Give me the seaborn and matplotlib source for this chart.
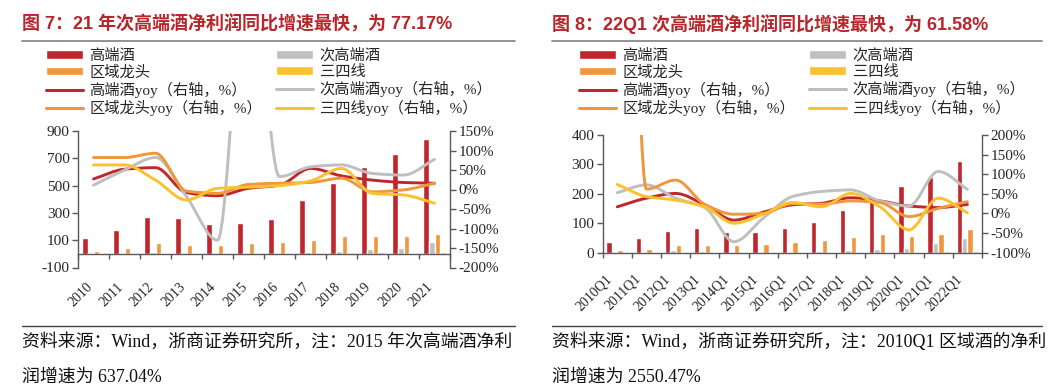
import numpy as np
import pandas as pd
import matplotlib
matplotlib.use("Agg")
import matplotlib.pyplot as plt
import matplotlib.transforms as mtransforms
from matplotlib.path import Path
from matplotlib.patches import PathPatch, Patch
from matplotlib.lines import Line2D
import seaborn as sns

# ---------------- data ----------------
years = ['2010', '2011', '2012', '2013', '2014', '2015', '2016', '2017', '2018', '2019', '2020', '2021']
high_profit = [115, 176, 273, 261, 217, 229, 253, 392, 521, 633, 729, 841]
sub_profit = [4, 5, 14, 8, 1, 5, 6, 12, 21, 33, 46, 85]
reg_profit = [20, 41, 83, 68, 63, 78, 87, 102, 131, 133, 129, 148]
tier_profit = [3, 4, 6, 5, 4, 4, 5, 7, 9, 10, 9, 10]
high_yoy = [27, 52, 56, -8, -16, 3, 11, 54, 35, 24, 18, 16]
sub_yoy = [11, 50, 82, -18, -130, 637.04, 33, 58, 63, 41, 37, 77.17]
reg_yoy = [82, 82, 93, -4, -10, 13, 16, 18, 29, -6, -1, 16]
tier_yoy = [63, 63, 24, -27, 3, 6, 10, 22, 54, -10, -14, -35]

quarters = ['2010Q1', '2011Q1', '2012Q1', '2013Q1', '2014Q1', '2015Q1', '2016Q1',
            '2017Q1', '2018Q1', '2019Q1', '2020Q1', '2021Q1', '2022Q1']
high_q = [35, 49, 74, 84, 69, 71, 84, 105, 145, 193, 227, 258, 312]
sub_q = [2, 3, 8, 7, 3, 3, 4, 5, 9, 12, 15, 32, 51]
reg_q = [8, 14, 26, 27, 26, 29, 36, 42, 53, 63, 57, 63, 80]
tier_q = [1, 1, 2, 2, 2, 2, 2, 3, 3, 4, 4, 5, 6]
high_q_yoy = [17, 39, 51, 22, -17, 3, 22, 26, 40, 32, 19, 15, 23]
sub_q_yoy = [53, 73, 39, 15, -72, -12, 43, 56, 60, 32, 19, 107, 61.58]
reg_q_yoy = [2550.47, 62, 85, 23, -2, 0, 25, 24, 32, 28, -8, 13, 30]
tier_q_yoy = [74, 43, 34, 17, -25, -2, 28, 17, 51, 17, -42, 39, 2]

bar_names = ['高端酒', '次高端酒', '区域龙头', '三四线']
line_names = ['高端酒yoy（右轴，%）', '次高端酒yoy（右轴，%）', '区域龙头yoy（右轴，%）', '三四线yoy（右轴，%）']
titles = ['图 7：21 年次高端酒净利润同比增速最快，为 77.17%',
          '图 8：22Q1 次高端酒净利润同比增速最快，为 61.58%']
notes = [['资料来源：Wind，浙商证券研究所，注：2015 年次高端酒净利', '润增速为 637.04%'],
         ['资料来源：Wind，浙商证券研究所，注：2010Q1 区域酒的净利', '润增速为 2550.47%']]

colors = ['#C0272D', '#BFBFBF', '#F0963C', '#FBC12F']

# ---------------- style ----------------
sns.set_style('ticks')
SERIF = ['Liberation Serif', 'Noto Sans CJK SC']
plt.rcParams['font.family'] = SERIF
plt.rcParams['axes.unicode_minus'] = False

W, H = 1063, 392
fig = plt.figure(figsize=(W / 100, H / 100), dpi=100)


def fx(px):
    return px / W


def fy(py):
    return 1 - py / H


def smooth_path(xs, ys):
    """Smoothed line through the data points (monotone cubic Bezier segments)."""
    x = np.asarray(xs, float)
    y = np.asarray(ys, float)
    n = len(x)
    d = np.diff(y) / np.diff(x)
    m = np.zeros(n)
    m[0], m[-1] = d[0], d[-1]
    for i in range(1, n - 1):
        if d[i - 1] * d[i] > 0:
            m[i] = 2 * d[i - 1] * d[i] / (d[i - 1] + d[i])
    verts = [(x[0], y[0])]
    codes = [Path.MOVETO]
    for i in range(n - 1):
        h = x[i + 1] - x[i]
        verts += [(x[i] + h / 3, y[i] + m[i] * h / 3),
                  (x[i + 1] - h / 3, y[i + 1] - m[i + 1] * h / 3),
                  (x[i + 1], y[i + 1])]
        codes += [Path.CURVE4] * 3
    return Path(verts, codes)


AXC = '#595959'


def panel(rect, cats, bars, lines, ylim, yticks, y2lim, y2ticks, pad_pt, xoff_px):
    ax = fig.add_axes(rect)
    n = len(cats)
    df = pd.DataFrame({
        'cat': np.repeat(cats, 4),
        'series': bar_names * n,
        'value': np.array(bars).T.reshape(-1),
    })
    sns.barplot(data=df, x='cat', y='value', hue='series', hue_order=bar_names,
                palette=colors, width=0.74, gap=0, dodge=True, legend=False,
                saturation=1, ax=ax, order=cats)
    ax.set_xlim(-0.5, n - 0.5)
    ax.set_ylim(*ylim)
    ax.set_yticks(yticks)
    ax.set_yticklabels([str(v) for v in yticks])
    ax.set_xlabel('')
    ax.set_ylabel('')
    ax.spines['top'].set_visible(False)
    ax.spines['right'].set_visible(False)
    ax.spines['bottom'].set_position(('data', 0))
    for s in ['left', 'bottom']:
        ax.spines[s].set_color(AXC)
        ax.spines[s].set_linewidth(1.0)
    ax.set_xticks(range(n))
    ax.set_xticklabels(cats, rotation=45, ha='right', va='top', rotation_mode='anchor')
    ax.set_xticks(np.arange(-0.5, n, 1.0), minor=True)
    ax.tick_params(axis='x', which='major', length=0, pad=pad_pt, labelsize=10)
    ax.tick_params(axis='x', which='minor', length=3.5, width=1.0, color=AXC, direction='out')
    ax.tick_params(axis='y', length=4, width=1.0, color=AXC, labelsize=11, pad=2)
    off = mtransforms.ScaledTranslation(xoff_px / 100, 0, fig.dpi_scale_trans)
    for lab in ax.get_xticklabels():
        lab.set_transform(lab.get_transform() + off)

    ax2 = ax.twinx()
    ax2.set_ylim(*y2lim)
    ax2.set_yticks(y2ticks)
    ax2.set_yticklabels([f'{v}%' for v in y2ticks])
    for s in ['top', 'left', 'bottom']:
        ax2.spines[s].set_visible(False)
    ax2.spines['right'].set_color(AXC)
    ax2.spines['right'].set_linewidth(1.0)
    ax2.tick_params(axis='y', length=4, width=1.0, color=AXC, labelsize=11, pad=2)
    xs = np.arange(n)
    for vals, c in zip(lines, colors):
        p = PathPatch(smooth_path(xs, vals), facecolor='none', edgecolor=c,
                      lw=2.1, capstyle='round', joinstyle='round')
        ax2.add_patch(p)
    ax2.set_xlim(-0.5, n - 0.5)
    ax.grid(False)
    ax2.grid(False)
    return ax, ax2


panel([fx(78), fy(267.5), fx(450) - fx(78), fy(131) - fy(267.5)], years,
      [high_profit, sub_profit, reg_profit, tier_profit],
      [high_yoy, sub_yoy, reg_yoy, tier_yoy],
      (-100, 900), [-100, 100, 300, 500, 700, 900],
      (-200, 150), list(range(-200, 151, 50)), pad_pt=19, xoff_px=-8)

panel([fx(602.7), fy(252.7), fx(982) - fx(602.7), fy(135) - fy(252.7)], quarters,
      [high_q, sub_q, reg_q, tier_q],
      [high_q_yoy, sub_q_yoy, reg_q_yoy, tier_q_yoy],
      (0, 400), [0, 100, 200, 300, 400],
      (-100, 200), list(range(-100, 201, 50)), pad_pt=14, xoff_px=-12)

# ---------------- titles, rules, notes, legends ----------------
TITLE_FONT = ['Liberation Sans', 'Noto Sans CJK SC']
for x0, x1, t, nt in [(22, 515, titles[0], notes[0]), (552, 1042, titles[1], notes[1])]:
    fig.text(fx(x0), fy(24), t, fontsize=13, fontweight='bold', color='#B8262B',
             family=TITLE_FONT, ha='left', va='center')
    fig.add_artist(Line2D([fx(x0), fx(x1)], [fy(41), fy(41)], color='#808080', lw=1.2))
    fig.add_artist(Line2D([fx(x0), fx(x1)], [fy(326), fy(326)], color='#404040', lw=1.0))
    fig.text(fx(x0), fy(342), nt[0], fontsize=12.9, color='#111111', ha='left', va='center')
    fig.text(fx(x0), fy(377), nt[1], fontsize=12.9, color='#111111', ha='left', va='center')

handles = [Patch(facecolor=colors[0]), Patch(facecolor=colors[2]),
           Line2D([0], [0], color=colors[0], lw=2.2), Line2D([0], [0], color=colors[2], lw=2.2),
           Patch(facecolor=colors[1]), Patch(facecolor=colors[3]),
           Line2D([0], [0], color=colors[1], lw=2.2), Line2D([0], [0], color=colors[3], lw=2.2)]
labels = [bar_names[0], bar_names[2], line_names[0], line_names[2],
          bar_names[1], bar_names[3], line_names[1], line_names[3]]
for lx in [46, 579]:
    fig.legend(handles, labels, ncol=2, loc='upper left', bbox_to_anchor=(fx(lx), fy(48.5)),
               frameon=False, fontsize=11, handlelength=2.45, handleheight=0.5,
               handletextpad=0.4, labelspacing=0.14, columnspacing=0.9,
               borderaxespad=0, borderpad=0)

fig.savefig('out.png', dpi=100)
